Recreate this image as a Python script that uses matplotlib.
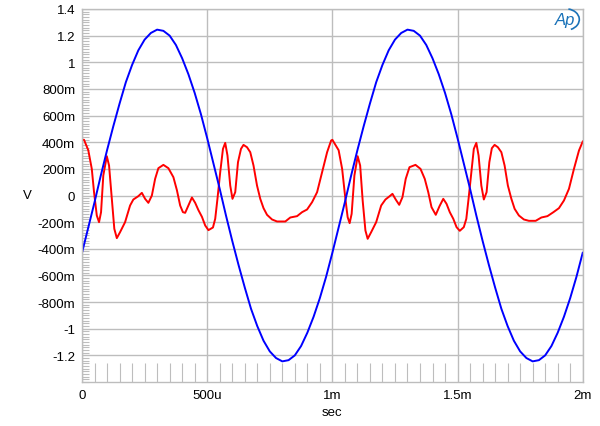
import numpy as np
import matplotlib.pyplot as plt
from matplotlib.patches import Arc

plt.rcParams["font.family"] = ["Liberation Sans", "DejaVu Sans"]

# time axis in microseconds, values in volts
blue_t = np.arange(0, 2001, 25)
blue_v = [
    -0.43, -0.24, -0.05, 0.15, 0.34, 0.52, 0.69, 0.85, 0.98, 1.09,
    1.17, 1.22, 1.245, 1.236, 1.20, 1.13, 1.03, 0.91, 0.77, 0.61,
    0.43, 0.24, 0.05, -0.15, -0.34, -0.52, -0.69, -0.85, -0.98, -1.09,
    -1.17, -1.22, -1.245, -1.236, -1.20, -1.13, -1.03, -0.91, -0.77, -0.61,
    -0.43, -0.24, -0.05, 0.15, 0.34, 0.52, 0.69, 0.85, 0.98, 1.09,
    1.17, 1.22, 1.245, 1.236, 1.20, 1.13, 1.03, 0.91, 0.77, 0.61,
    0.43, 0.24, 0.05, -0.15, -0.34, -0.52, -0.69, -0.85, -0.98, -1.09,
    -1.17, -1.22, -1.245, -1.236, -1.20, -1.13, -1.03, -0.91, -0.77, -0.61,
    -0.43,
]

red_t = [
    0, 8, 25, 39, 48, 59, 68, 76, 85, 99, 108, 119, 129, 139, 152, 172,
    192, 205, 225, 239, 252, 265, 279, 292, 305, 325, 345, 365, 379, 392,
    403, 412, 425, 439, 452, 465, 479, 492, 505, 523, 532, 541, 552, 563,
    572, 581, 592, 601, 612, 623, 635, 645, 659, 672, 685, 699, 712, 725,
    739, 759, 779, 812, 832, 859, 879, 899, 919, 939, 959, 979, 995,
    1000, 1025, 1039, 1052, 1061, 1069, 1077, 1088, 1101, 1111, 1121, 1132,
    1141, 1155, 1175, 1195, 1212, 1229, 1240, 1253, 1267, 1280, 1293, 1308,
    1332, 1352, 1369, 1383, 1396, 1413, 1428, 1443, 1456, 1469, 1483, 1496,
    1509, 1525, 1535, 1544, 1555, 1565, 1575, 1584, 1595, 1605, 1616, 1627,
    1637, 1648, 1661, 1675, 1688, 1701, 1715, 1728, 1745, 1765, 1785, 1812,
    1835, 1859, 1883, 1905, 1925, 1945, 1965, 1985, 2000,
]
red_v = [
    0.418, 0.418, 0.34, 0.20, 0.025, -0.15, -0.20, -0.125, 0.15, 0.295,
    0.225, -0.025, -0.25, -0.32, -0.275, -0.20, -0.075, -0.03, -0.005, 0.02,
    -0.025, -0.055, 0.0, 0.125, 0.205, 0.23, 0.205, 0.1375, 0.04, -0.075,
    -0.125, -0.13, -0.075, -0.015, -0.055, -0.11, -0.16, -0.225, -0.26, -0.24,
    -0.175, -0.025, 0.175, 0.35, 0.395, 0.30, 0.075, -0.025, 0.025, 0.25,
    0.35, 0.38, 0.3625, 0.325, 0.225, 0.075, -0.025, -0.095, -0.145, -0.18,
    -0.195, -0.195, -0.165, -0.155, -0.125, -0.105, -0.05, 0.025, 0.175, 0.325,
    0.4125,
    0.418, 0.34, 0.20, -0.025, -0.1625, -0.2075, -0.1375, 0.15, 0.295, 0.225,
    -0.0375, -0.2625, -0.325, -0.275, -0.20, -0.075, -0.03, -0.005, 0.0125, -0.03,
    -0.07, -0.0125, 0.125, 0.2125, 0.23, 0.20, 0.125, 0.025, -0.0875, -0.145,
    -0.08, -0.025, -0.0625, -0.125, -0.175, -0.2375, -0.265, -0.2375, -0.175, -0.025,
    0.175, 0.35, 0.395, 0.30, 0.075, -0.03, 0.025, 0.25, 0.355, 0.38,
    0.3625, 0.325, 0.225, 0.075, -0.025, -0.10, -0.15, -0.18, -0.19, -0.19,
    -0.165, -0.155, -0.125, -0.095, -0.0375, 0.05, 0.20, 0.3375, 0.405,
]

y_ticks = [-1.2, -1.0, -0.8, -0.6, -0.4, -0.2, 0, 0.2, 0.4, 0.6, 0.8, 1.0, 1.2, 1.4]
y_labels = ["-1.2", "-1", "-800m", "-600m", "-400m", "-200m", "0",
            "200m", "400m", "600m", "800m", "1", "1.2", "1.4"]
x_ticks = [0, 500, 1000, 1500, 2000]
x_labels = ["0", "500u", "1m", "1.5m", "2m"]

grid_col = "#bdbdbd"

fig = plt.figure(figsize=(6, 4.27), dpi=100)
ax = fig.add_axes([0.1367, 0.103, 0.8345, 0.8736])

ax.plot(red_t, red_v, color="#ff0000", lw=1.4)
ax.plot(blue_t, blue_v, color="#0000ff", lw=1.4)

ax.set_xlim(0, 2000)
ax.set_ylim(-1.4, 1.4)

ax.set_xticks(x_ticks)
ax.set_xticklabels(x_labels)
ax.set_yticks(y_ticks)
ax.set_yticklabels(y_labels)
ax.set_xticks(np.arange(50, 2000, 50), minor=True)
ax.set_yticks(np.arange(-1.4, 1.401, 0.02), minor=True)

ax.tick_params(which="major", length=0, labelsize=9.5, pad=5)
ax.tick_params(axis="x", which="minor", direction="in", length=14, color=grid_col, width=0.8)
ax.tick_params(axis="y", which="minor", direction="in", length=5, color=grid_col, width=0.8)

ax.grid(True, which="major", color=grid_col, lw=1)
for s in ax.spines.values():
    s.set_color(grid_col)
    s.set_linewidth(1)

fig.text(332 / 600, 1 - 413 / 427, "sec", fontsize=9.5, ha="center", va="center")
fig.text(27 / 600, 1 - 196 / 427, "V", fontsize=9.5, ha="center", va="center")

# AP logo
fig.text(0.942, 0.952, "Ap", color="#1a72b8", fontsize=12, style="italic",
         ha="center", va="center")
fig.add_artist(Arc((0.943, 0.952), 0.045, 0.05, theta1=-70, theta2=80,
                   color="#1a72b8", lw=1.2, transform=fig.transFigure))

fig.savefig("out.png", dpi=100)
